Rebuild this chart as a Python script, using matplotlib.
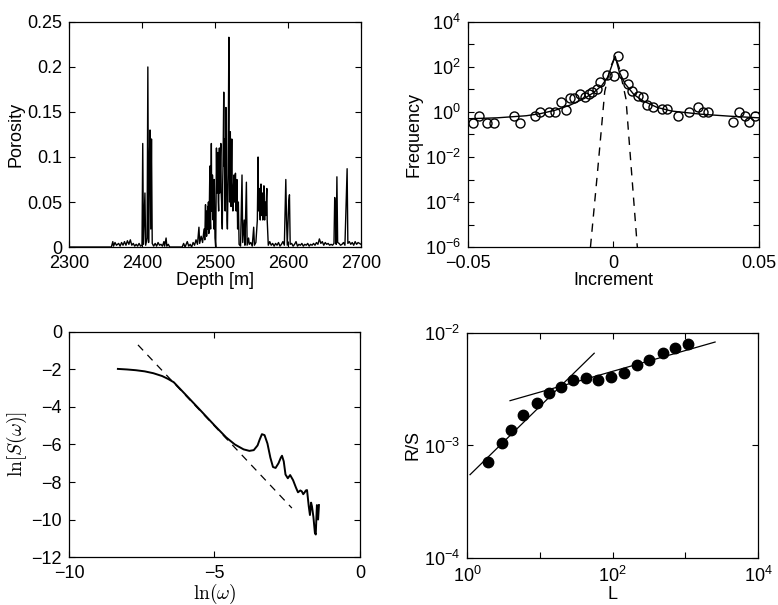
import matplotlib
matplotlib.use('Agg')
import matplotlib.pyplot as plt
import numpy as np

plt.rcParams['font.family'] = ['Liberation Sans', 'DejaVu Sans']
plt.rcParams['mathtext.fontset'] = 'cm'
plt.rcParams['font.size'] = 13
plt.rcParams['axes.linewidth'] = 0.9
plt.rcParams['xtick.direction'] = 'in'
plt.rcParams['ytick.direction'] = 'in'
plt.rcParams['xtick.top'] = True
plt.rcParams['ytick.right'] = True
plt.rcParams['xtick.major.size'] = 4
plt.rcParams['ytick.major.size'] = 4
plt.rcParams['xtick.major.pad'] = 6
plt.rcParams['ytick.major.pad'] = 5

# --- porosity log (top left) ---
depth = [2300, 2358, 2360, 2361, 2363, 2365, 2368, 2370, 2372, 2374, 2376, 2378, 2380, 2382,
         2384, 2386, 2388, 2390, 2392, 2394, 2396, 2398, 2400, 2401, 2402, 2404, 2405, 2407,
         2408, 2409, 2410, 2411, 2412, 2413, 2414, 2416, 2418, 2420, 2422, 2424, 2426, 2428,
         2430, 2431, 2433, 2434, 2436, 2438, 2455, 2457, 2459, 2462, 2464, 2466, 2468, 2470,
         2472, 2474, 2476, 2478, 2479, 2481, 2483, 2485, 2486, 2487, 2487.5, 2488, 2488.5, 2489,
         2489.5, 2490, 2490.5, 2491, 2491.5, 2492, 2492.5, 2493, 2493.5, 2494, 2494.5, 2495,
         2495.5, 2496, 2496.5, 2497, 2497.5, 2498, 2498.5, 2499, 2499.5, 2500, 2501, 2502,
         2502.5, 2503, 2503.5, 2504, 2504.5, 2505, 2505.5, 2506, 2506.5, 2507, 2507.5, 2508,
         2508.5, 2509, 2509.5, 2510, 2510.5, 2511, 2511.5, 2512, 2512.5, 2513, 2513.5, 2514,
         2514.5, 2515, 2515.5, 2516, 2516.5, 2517, 2517.5, 2518, 2518.5, 2519, 2519.5, 2520,
         2520.5, 2521, 2521.5, 2522, 2522.5, 2523, 2523.5, 2524, 2524.5, 2525, 2525.5, 2526,
         2526.5, 2527, 2527.5, 2528, 2528.5, 2529, 2529.5, 2530, 2530.5, 2531, 2531.5, 2532,
         2533, 2535, 2537, 2538, 2540, 2541, 2543, 2544, 2546, 2547, 2549, 2551, 2553, 2554,
         2556, 2558, 2559, 2559.5, 2560, 2560.5, 2561, 2561.5, 2562, 2562.5, 2563, 2563.5, 2564,
         2564.5, 2565, 2565.5, 2566, 2566.5, 2567, 2567.5, 2568, 2568.5, 2569, 2569.5, 2570,
         2570.5, 2571, 2571.5, 2572, 2573, 2575, 2577, 2579, 2581, 2583, 2585, 2587, 2589,
         2591, 2593, 2595, 2597, 2598, 2599, 2601, 2602, 2603, 2605, 2607, 2609, 2611, 2613,
         2615, 2617, 2619, 2621, 2623, 2625, 2627, 2629, 2631, 2633, 2635, 2637, 2639, 2641,
         2643, 2645, 2647, 2649, 2651, 2653, 2655, 2657, 2659, 2661, 2663, 2664, 2665, 2666,
         2667, 2668, 2670, 2672, 2674, 2676, 2678, 2680, 2681, 2682, 2684, 2686, 2688, 2690,
         2692, 2694, 2696, 2698, 2700]
porosity = [0, 0, 0.006, 0.001, 0.005, 0.002, 0.004, 0.001, 0.005, 0.002, 0.006, 0.002, 0.007, 0.003,
            0.008, 0.002, 0.004, 0.001, 0.003, 0.001, 0.004, 0.001, 0.002, 0.115, 0.003, 0.06, 0.002, 0.01,
            0.2, 0.005, 0.09, 0.13, 0.02, 0.12, 0.004, 0.001, 0.004, 0.001, 0.005, 0.002, 0.003, 0.001,
            0.006, 0.001, 0.01, 0.001, 0.003, 0.0, 0.0, 0.004, 0.0, 0.006, 0.001, 0.003, 0.0, 0.005,
            0.002, 0.008, 0.003, 0.022, 0.004, 0.012, 0.005, 0.02, 0.008, 0.047, 0.015, 0.04, 0.012, 0.035,
            0.02, 0.045, 0.025, 0.05, 0.015, 0.03, 0.06, 0.09, 0.03, 0.02, 0.07, 0.115,
            0.04, 0.04, 0.08, 0.07, 0.03, 0.05, 0.02, 0.075, 0.04, 0.01, 0.0, 0.11,
            0.07, 0.06, 0.1, 0.105, 0.05, 0.04, 0.09, 0.11, 0.06, 0.07, 0.1, 0.115,
            0.06, 0.05, 0.03, 0.02, 0.07, 0.09, 0.13, 0.172, 0.09, 0.12, 0.06, 0.04,
            0.11, 0.155, 0.08, 0.06, 0.03, 0.02, 0.05, 0.1, 0.16, 0.233, 0.09, 0.05,
            0.07, 0.128, 0.06, 0.045, 0.09, 0.12, 0.07, 0.06, 0.04, 0.05, 0.07, 0.08,
            0.05, 0.05, 0.06, 0.082, 0.06, 0.04, 0.06, 0.075, 0.05, 0.02, 0.04, 0.05,
            0.003, 0.001, 0.08, 0.005, 0.03, 0.002, 0.072, 0.002, 0.01, 0.003, 0.005, 0.001, 0.022, 0.002,
            0.005, 0.03, 0.1, 0.06, 0.04, 0.05, 0.065, 0.04, 0.03, 0.055, 0.07, 0.04, 0.035,
            0.05, 0.06, 0.03, 0.04, 0.055, 0.068, 0.04, 0.03, 0.045, 0.05, 0.035, 0.04,
            0.055, 0.065, 0.03, 0.02, 0.002, 0.006, 0.002, 0.004, 0.001, 0.004, 0.002, 0.005, 0.001,
            0.003, 0.006, 0.002, 0.075, 0.03, 0.002, 0.05, 0.058, 0.003, 0.004, 0.001, 0.003, 0.006, 0.001,
            0.003, 0.002, 0.004, 0.001, 0.003, 0.002, 0.004, 0.001, 0.003, 0.002, 0.004, 0.002, 0.005, 0.003,
            0.009, 0.004, 0.006, 0.002, 0.005, 0.003, 0.004, 0.002, 0.003, 0.002, 0.004, 0.055, 0.04, 0.003,
            0.078, 0.005, 0.004, 0.002, 0.003, 0.005, 0.002, 0.06, 0.087, 0.004, 0.006, 0.003, 0.005, 0.002,
            0.006, 0.003, 0.005, 0.004, 0.003]

# --- increment histogram (top right) ---
incr = [-0.0483, -0.0462, -0.0435, -0.0411, -0.0342, -0.0321, -0.027, -0.0253, -0.0222, -0.0201,
        -0.018, -0.0163, -0.015, -0.0135, -0.0115, -0.0098, -0.0084, -0.0074, -0.0057, -0.0046,
        -0.0022, 0.0002, 0.0015, 0.0033, 0.005, 0.0064, 0.0084, 0.0101, 0.0115, 0.0136,
        0.0167, 0.0184, 0.0222, 0.0259, 0.029, 0.0308, 0.0325, 0.041, 0.0431, 0.0452, 0.0466, 0.0486]
freq = [0.32, 0.66, 0.32, 0.32, 0.66, 0.32, 0.66, 1.0, 1.0, 1.0,
        2.8, 1.2, 4.2, 4.2, 6.3, 4.8, 6.3, 7.7, 11, 21,
        44, 40, 310, 49, 17, 8.6, 5.1, 4.6, 2.0, 1.7,
        1.36, 1.36, 0.66, 1.0, 1.67, 1.0, 1.0, 0.36, 1.0, 0.66, 0.36, 0.66]
fit_x = [-0.05, -0.04, -0.03, -0.025, -0.02, -0.015, -0.01, -0.007, -0.004, -0.002, 0.0006,
         0.002, 0.004, 0.007, 0.01, 0.015, 0.02, 0.03, 0.04, 0.05]
fit_y = [0.5, 0.55, 0.68, 0.85, 1.2, 2.0, 4.0, 7, 15, 35, 300,
         60, 18, 6, 3.2, 1.6, 1.1, 0.8, 0.65, 0.55]
gauss_x = [-0.0079, -0.0055, -0.003, -0.001, 0.0006, 0.002, 0.0043, 0.006, 0.0082]
gauss_y = [1e-6, 2e-3, 8, 100, 300, 90, 3.8, 5e-3, 1e-6]

# --- power spectrum (bottom left) ---
ln_w = [-8.32, -8.0, -7.7, -7.4, -7.1, -6.8, -6.6, -6.4, -6.0, -5.5, -5.0, -4.6, -4.3, -4.0,
        -3.8, -3.65, -3.52, -3.45, -3.37, -3.28, -3.18, -3.08, -2.99, -2.9, -2.8, -2.72, -2.68,
        -2.62, -2.56, -2.48, -2.4, -2.3, -2.2, -2.13, -2.05, -2.0, -1.95, -1.9, -1.86, -1.82,
        -1.76, -1.72, -1.68, -1.65, -1.6, -1.55, -1.52, -1.5, -1.48, -1.44, -1.41]
ln_S = [-1.97, -2.0, -2.04, -2.1, -2.2, -2.35, -2.5, -2.68, -3.33, -4.15, -4.98, -5.62, -6.0, -6.26,
        -6.34, -6.3, -6.05, -5.75, -5.45, -5.5, -5.95, -6.7, -7.2, -7.25, -7.0, -6.7, -6.6,
        -6.9, -7.6, -7.8, -7.63, -7.9, -8.3, -8.55, -8.45, -8.5, -8.65, -8.55, -8.45, -8.43,
        -9.3, -9.76, -9.1, -9.3, -9.87, -10.7, -10.8, -10.0, -9.23, -10.0, -9.23]
slope_x = [-7.63, -2.34]
slope_y = [-0.69, -9.39]

# --- rescaled range (bottom right) ---
L = [1.94, 3.05, 4.0, 5.9, 9.1, 13.4, 19.6, 28.6, 43.5, 63, 95, 145, 218, 317, 490, 720, 1090]
RS = [7.1e-4, 1.05e-3, 1.38e-3, 1.87e-3, 2.4e-3, 2.9e-3, 3.3e-3, 3.8e-3, 4.0e-3, 3.8e-3,
      4.05e-3, 4.4e-3, 5.2e-3, 5.75e-3, 6.6e-3, 7.4e-3, 7.9e-3]
fit1_L = [1.1, 56]
fit1_RS = [5.5e-4, 6.6e-3]
fit2_L = [3.9, 2570]
fit2_RS = [2.5e-3, 8.3e-3]

fig = plt.figure(figsize=(7.78, 6.05), dpi=100)

ax1 = fig.add_axes([0.0887, 0.5917, 0.3753, 0.372])
ax1.plot(depth, porosity, color='black', linewidth=1.0)
ax1.set_xlim(2300, 2700)
ax1.set_ylim(0, 0.25)
ax1.set_xticks([2300, 2400, 2500, 2600, 2700])
ax1.set_yticks([0, 0.05, 0.1, 0.15, 0.2, 0.25])
ax1.set_yticklabels(['0', '0.05', '0.1', '0.15', '0.2', '0.25'])
ax1.set_xlabel('Depth [m]', labelpad=0)
ax1.set_ylabel('Porosity', labelpad=2)

ax2 = fig.add_axes([0.6015, 0.5917, 0.374, 0.372])
ax2.set_yscale('log')
ax2.plot(fit_x, fit_y, color='black', linewidth=1.0)
ax2.plot(gauss_x, gauss_y, color='black', linewidth=1.0, linestyle=(0, (6, 5)))
ax2.plot(incr, freq, linestyle='none', marker='o', markersize=6.5,
         markerfacecolor='none', markeredgecolor='black', markeredgewidth=1.0)
ax2.set_xlim(-0.05, 0.05)
ax2.set_ylim(1e-6, 1e4)
ax2.set_xticks([-0.05, 0, 0.05])
ax2.set_xticklabels(['\u22120.05', '0', '0.05'])
ax2.set_yticks([10.0 ** k for k in range(-6, 5)])
ax2.set_yticklabels([r'$\mathregular{10^{%d}}$' % k if k % 2 == 0 else '' for k in range(-6, 5)])
ax2.minorticks_off()
ax2.set_xlabel('Increment', labelpad=0)
ax2.set_ylabel('Frequency', labelpad=2)

ax3 = fig.add_axes([0.0887, 0.0793, 0.374, 0.372])
ax3.plot(ln_w, ln_S, color='black', linewidth=1.4)
ax3.plot(slope_x, slope_y, color='black', linewidth=0.9, linestyle=(0, (6, 5)))
ax3.set_xlim(-10, 0)
ax3.set_ylim(-12, 0)
ax3.set_xticks([-10, -5, 0])
ax3.set_xticklabels(['\u221210', '\u22125', '0'])
ax3.set_yticks([-12, -10, -8, -6, -4, -2, 0])
ax3.set_yticklabels(['\u221212', '\u221210', '\u22128', '\u22126', '\u22124', '\u22122', '0'])
ax3.set_xlabel(r'$\ln(\omega)$', fontsize=14, labelpad=0)
ax3.set_ylabel(r'$\ln[S(\omega)]$', fontsize=14, labelpad=2)

ax4 = fig.add_axes([0.6003, 0.0777, 0.374, 0.372])
ax4.set_xscale('log')
ax4.set_yscale('log')
ax4.plot(fit1_L, fit1_RS, color='black', linewidth=0.9)
ax4.plot(fit2_L, fit2_RS, color='black', linewidth=0.9)
ax4.plot(L, RS, linestyle='none', marker='o', markersize=7.5, color='black')
ax4.set_xlim(1, 1e4)
ax4.set_ylim(1e-4, 1e-2)
ax4.set_xticks([1, 10, 100, 1000, 10000])
ax4.set_xticklabels([r'$\mathregular{10^{0}}$', '', r'$\mathregular{10^{2}}$', '', r'$\mathregular{10^{4}}$'])
ax4.set_yticks([1e-4, 1e-3, 1e-2])
ax4.set_yticklabels([r'$\mathregular{10^{-4}}$', r'$\mathregular{10^{-3}}$', r'$\mathregular{10^{-2}}$'])
ax4.minorticks_off()
ax4.set_xlabel('L', labelpad=0)
ax4.set_ylabel('R/S', labelpad=2)

fig.savefig('out.png', dpi=100)
